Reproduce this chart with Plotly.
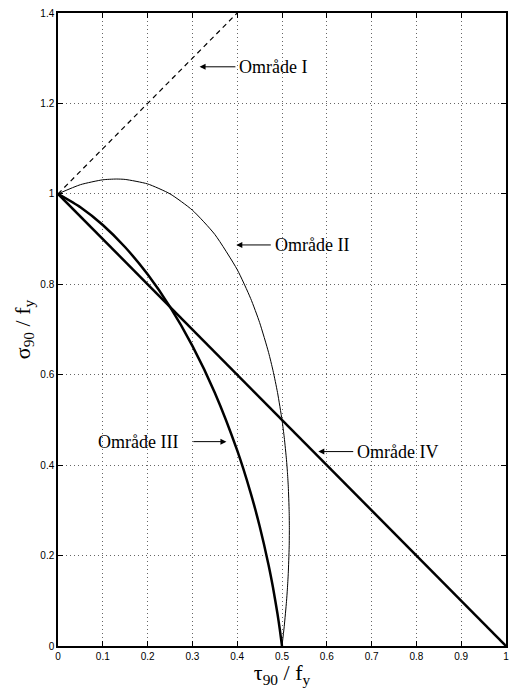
import plotly.graph_objects as go

# ---- data (tau90/fy, sigma90/fy) ----
tau_I = [0.0, 0.4]
sig_I = [1.0, 1.4]

tau_II = [0.0, 0.05, 0.10, 0.13, 0.15, 0.20, 0.25, 0.30, 0.35, 0.40, 0.43, 0.45,
          0.47, 0.48, 0.49, 0.50, 0.505, 0.51, 0.512, 0.514, 0.516, 0.5164,
          0.516, 0.514, 0.512, 0.51, 0.505, 0.50]
sig_II = [1.0, 1.0203, 1.0311, 1.0328, 1.0319, 1.0220, 1.0, 0.9639, 0.9103, 0.8325,
          0.7687, 0.7155, 0.6493, 0.6088, 0.5606, 0.50, 0.4614, 0.4119, 0.3862,
          0.3533, 0.2973, 0.2582, 0.2188, 0.1607, 0.1258, 0.0981, 0.0436, 0.0]

tau_III = [0.0, 0.05, 0.10, 0.15, 0.20, 0.25, 0.30, 0.35, 0.40, 0.43, 0.45, 0.47,
           0.48, 0.49, 0.495, 0.50]
sig_III = [1.0, 0.9703, 0.9311, 0.8819, 0.8220, 0.75, 0.6639, 0.5603, 0.4325,
           0.3387, 0.2655, 0.1793, 0.1288, 0.0706, 0.0374, 0.0]

tau_IV = [0.0, 1.0]
sig_IV = [1.0, 0.0]

x_ticks = [0, 0.1, 0.2, 0.3, 0.4, 0.5, 0.6, 0.7, 0.8, 0.9, 1]
x_ticktext = ["0", "0.1", "0.2", "0.3", "0.4", "0.5", "0.6", "0.7", "0.8", "0.9", "1"]
y_ticks = [0, 0.2, 0.4, 0.6, 0.8, 1, 1.2, 1.4]
y_ticktext = ["0", "0.2", "0.4", "0.6", "0.8", "1", "1.2", "1.4"]

labels = ["Område I", "Område II", "Område III", "Område IV"]
arrow_head_x = [0.316, 0.398, 0.376, 0.581]
arrow_head_y = [1.281, 0.887, 0.452, 0.430]
arrow_tail_x = [0.396, 0.475, 0.302, 0.659]
label_side = ["left", "left", "right", "left"]
label_pad = [3, 3, 14, 3]

fig = go.Figure()
fig.add_trace(go.Scatter(x=tau_I, y=sig_I, mode="lines",
                         line=dict(color="black", width=1.2, dash="5px,4px")))
fig.add_trace(go.Scatter(x=tau_II, y=sig_II, mode="lines",
                         line=dict(color="black", width=1, shape="spline", smoothing=0.6)))
fig.add_trace(go.Scatter(x=tau_III, y=sig_III, mode="lines",
                         line=dict(color="black", width=2.5, shape="spline", smoothing=0.6)))
fig.add_trace(go.Scatter(x=tau_IV, y=sig_IV, mode="lines",
                         line=dict(color="black", width=2.5)))

annotations = []
for i, lab in enumerate(labels):
    annotations.append(dict(
        x=arrow_head_x[i], y=arrow_head_y[i], xref="x", yref="y",
        ax=arrow_tail_x[i], ay=arrow_head_y[i], axref="x", ayref="y",
        text=lab, showarrow=True, arrowhead=2, arrowsize=1.2, arrowwidth=1,
        arrowcolor="black", standoff=0, startstandoff=0,
        xanchor=label_side[i], yanchor="middle", borderpad=label_pad[i],
        font=dict(family="Liberation Serif", size=18, color="black")))

axis_common = dict(
    showgrid=True, gridcolor="#666666", gridwidth=1, griddash="1px,3px",
    zeroline=False, showline=True, linecolor="black", linewidth=1.5,
    mirror="ticks", ticks="inside", ticklen=5, tickwidth=1, tickcolor="black",
    ticklabeloverflow="allow",
    tickfont=dict(family="Liberation Sans", size=10, color="black"),
)

fig.update_layout(
    width=509, height=688,
    margin=dict(l=58, r=0, t=13, b=42),
    paper_bgcolor="white", plot_bgcolor="white",
    showlegend=False,
    annotations=annotations,
    xaxis=dict(range=[0, 1], tickvals=x_ticks, ticktext=x_ticktext,
               title=dict(text="τ<sub>90</sub> / f<sub>y</sub>", standoff=2,
                          font=dict(family="Liberation Serif", size=22, color="black")),
               **axis_common),
    yaxis=dict(range=[0, 1.4], tickvals=y_ticks, ticktext=y_ticktext,
               title=dict(text="σ<sub>90</sub> / f<sub>y</sub>", standoff=4,
                          font=dict(family="Liberation Serif", size=22, color="black")),
               **axis_common),
)

fig.write_html("out.html")
